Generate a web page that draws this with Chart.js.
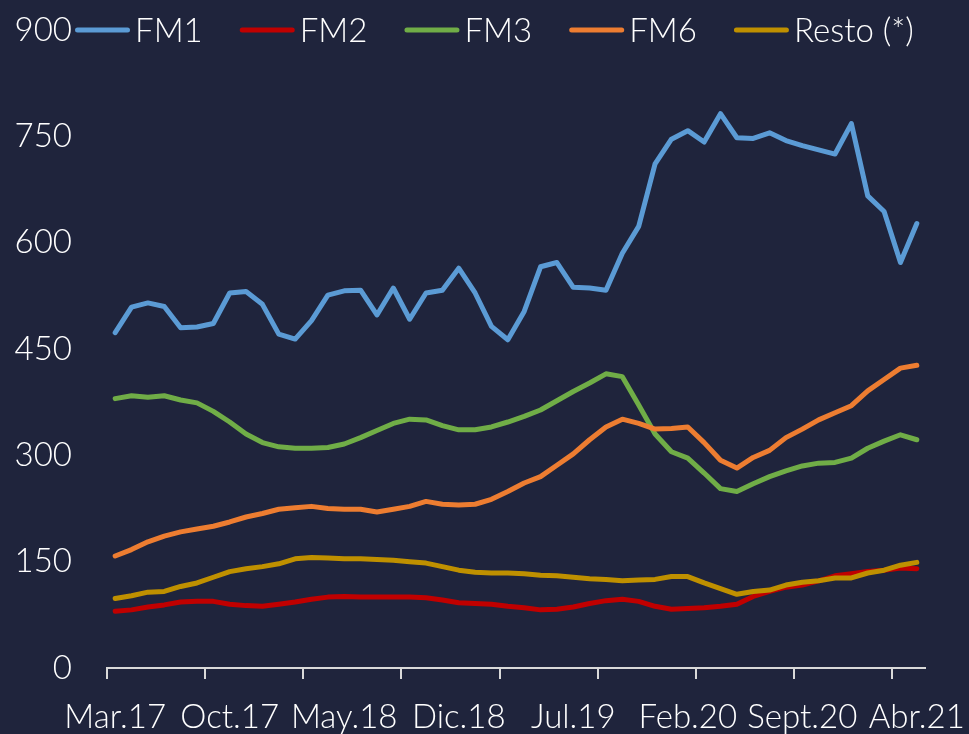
<!DOCTYPE html>
<html>
<head>
<meta charset="utf-8">
<script src="https://cdn.jsdelivr.net/npm/chart.js@4.4.1/dist/chart.umd.min.js"></script>
<style>
  html, body { margin: 0; padding: 0; background: #1f243c; }
  canvas { display: block; }
</style>
</head>
<body>
<canvas id="chart" width="969" height="734"></canvas>
<script>
// Meses (Mar.17 - Abr.21)
const months = [
  'Mar.17', 'Abr.17', 'May.17', 'Jun.17', 'Jul.17', 'Ago.17', 'Sept.17', 'Oct.17', 'Nov.17', 'Dic.17',
  'Ene.18', 'Feb.18', 'Mar.18', 'Abr.18', 'May.18', 'Jun.18', 'Jul.18', 'Ago.18', 'Sept.18', 'Oct.18', 'Nov.18', 'Dic.18',
  'Ene.19', 'Feb.19', 'Mar.19', 'Abr.19', 'May.19', 'Jun.19', 'Jul.19', 'Ago.19', 'Sept.19', 'Oct.19', 'Nov.19', 'Dic.19',
  'Ene.20', 'Feb.20', 'Mar.20', 'Abr.20', 'May.20', 'Jun.20', 'Jul.20', 'Ago.20', 'Sept.20', 'Oct.20', 'Nov.20', 'Dic.20',
  'Ene.21', 'Feb.21', 'Mar.21', 'Abr.21'
];

const fm1 = [473, 509, 515, 510, 480, 481, 486, 529, 531, 513,
  471, 464, 490, 526, 532, 533, 498, 536, 492, 529,
  533, 564, 529, 482, 463, 503, 566, 572, 537, 536,
  533, 585, 623, 711, 746, 758, 742, 782, 748, 747,
  755, 744, 737, 731, 725, 768, 666, 644, 572, 627];

const fm2 = [80, 82, 86, 89, 93, 94, 94, 90, 88, 87,
  90, 93, 97, 100, 101, 100, 100, 100, 100, 99,
  96, 92, 91, 90, 87, 85, 82, 83, 86, 91,
  95, 97, 94, 87, 83, 84, 85, 87, 90, 101,
  108, 114, 117, 123, 130, 133, 136, 138, 141, 140];

const fm3 = [380, 384, 382, 384, 378, 374, 362, 347, 330, 318,
  312, 310, 310, 311, 316, 325, 335, 345, 351, 350,
  342, 336, 336, 340, 347, 355, 364, 377, 390, 402,
  415, 411, 371, 330, 305, 296, 275, 253, 249, 260,
  270, 278, 285, 289, 290, 296, 310, 320, 329, 322];

const fm6 = [158, 167, 178, 186, 192, 196, 200, 206, 213, 218,
  224, 226, 228, 225, 224, 224, 220, 224, 228, 235,
  231, 230, 231, 238, 249, 261, 270, 286, 302, 322,
  340, 351, 345, 337, 338, 340, 318, 293, 282, 297,
  307, 325, 337, 350, 360, 370, 391, 407, 423, 427];

const resto = [98, 102, 107, 108, 115, 120, 128, 136, 140, 143,
  147, 154, 156, 155, 154, 154, 153, 152, 150, 148,
  143, 138, 135, 134, 134, 133, 131, 130, 128, 126,
  125, 123, 124, 125, 129, 129, 120, 112, 104, 108,
  110, 117, 121, 123, 127, 127, 134, 138, 145, 149];

const FONT = 'Lato, "Open Sans", sans-serif';
const FONT_SIZE = 33;
const FONT_WEIGHT = 300;
const axisColor = '#d9d9d9';

function serie(label, data, color, order) {
  return {
    label: label,
    data: data,
    borderColor: color,
    backgroundColor: color,
    borderWidth: 5,
    borderCapStyle: 'round',
    borderJoinStyle: 'round',
    pointRadius: 0,
    tension: 0,
    order: order
  };
}

// leyenda arriba, encima del area del grafico (como en Excel)
const topLegend = {
  id: 'topLegend',
  afterDraw(chart) {
    const ctx = chart.ctx;
    ctx.save();
    ctx.font = FONT_WEIGHT + ' ' + FONT_SIZE + 'px ' + FONT;
    ctx.textBaseline = 'middle';
    ctx.textAlign = 'left';
    let x = 75;
    const y = 30;
    chart.data.datasets.forEach(ds => {
      ctx.strokeStyle = ds.borderColor;
      ctx.lineWidth = 5;
      ctx.lineCap = 'round';
      ctx.beginPath();
      ctx.moveTo(x + 2.5, y);
      ctx.lineTo(x + 52.5, y);
      ctx.stroke();
      ctx.fillStyle = '#ffffff';
      ctx.fillText(ds.label, x + 60, y + 1);
      x += 60 + ctx.measureText(ds.label).width + 37;
    });
    ctx.restore();
  }
};

new Chart(document.getElementById('chart'), {
  type: 'line',
  data: {
    labels: months,
    datasets: [
      serie('FM1', fm1, '#5b9bd5', 4),
      serie('FM2', fm2, '#c00000', 3),
      serie('FM3', fm3, '#70ad47', 2),
      serie('FM6', fm6, '#ed7d31', 1),
      serie('Resto (*)', resto, '#bf9000', 0)
    ]
  },
  options: {
    responsive: false,
    animation: false,
    layout: { padding: { top: 30, right: 44, bottom: 0, left: 0 } },
    plugins: {
      legend: { display: false },
      tooltip: { enabled: false }
    },
    scales: {
      x: {
        offset: true,
        afterFit: (scale) => {
          scale.height = 66;
          scale.paddingLeft = 0;
          scale.paddingRight = 0;
        },
        grid: {
          offset: true,
          drawOnChartArea: false,
          drawTicks: true,
          tickLength: 11,
          lineWidth: 2,
          color: (c) => c.index % 6 === 0 ? axisColor : 'transparent',
          tickColor: (c) => c.index % 6 === 0 ? axisColor : 'transparent'
        },
        border: { display: true, color: axisColor, width: 2 },
        ticks: {
          autoSkip: false,
          maxRotation: 0,
          minRotation: 0,
          padding: 22,
          color: '#ffffff',
          font: { family: FONT, size: FONT_SIZE, weight: FONT_WEIGHT, lineHeight: 1.0 },
          callback: function (val, i) {
            return i % 7 === 0 ? this.getLabelForValue(val) : '';
          }
        }
      },
      y: {
        min: 0,
        max: 900,
        afterFit: (scale) => {
          scale.width = 107;
          scale.paddingTop = 0;
          scale.paddingBottom = 0;
        },
        grid: { display: false, drawTicks: false },
        border: { display: false },
        ticks: {
          stepSize: 150,
          padding: 35,
          color: '#ffffff',
          font: { family: FONT, size: FONT_SIZE, weight: FONT_WEIGHT, lineHeight: 1.0 }
        }
      }
    }
  },
  plugins: [topLegend]
});
</script>
</body>
</html>
